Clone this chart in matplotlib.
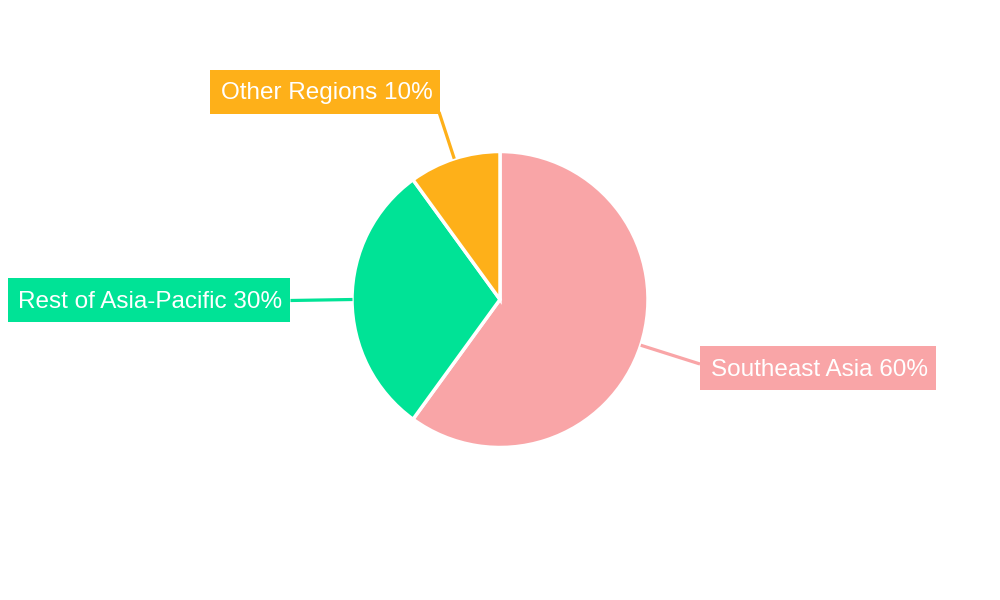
import matplotlib
matplotlib.use("Agg")
import matplotlib.pyplot as plt
from matplotlib.patches import Rectangle
import numpy as np

labels = ["Southeast Asia", "Rest of Asia-Pacific", "Other Regions"]
values = [60, 30, 10]
colors = ["#F9A5A7", "#00E396", "#FEB019"]

plt.rcParams['font.family'] = ['Liberation Sans', 'DejaVu Sans']

W, H = 1000, 600
fig = plt.figure(figsize=(10, 6), dpi=100)
ax = fig.add_axes([0, 0, 1, 1])

cx, cy, r = 500, H - 299.5, 148
wedges, _ = ax.pie(values, colors=colors, startangle=90, counterclock=False,
                   center=(cx, cy), radius=r, frame=True,
                   wedgeprops=dict(edgecolor='white', linewidth=2.5))
ax.set_xlim(0, W)
ax.set_ylim(0, H)
ax.set_aspect('equal')
ax.axis('off')

# label boxes (pixel coords, y from top): x0, y0, x1, y1
boxes = [(700, 346, 936, 390), (8, 278, 290, 322), (210, 70, 440, 114)]
ends = [(700, 364), (290, 299.5), (439, 112)]

for w, lab, val, col, box, end in zip(wedges, labels, values, colors, boxes, ends):
    ang = np.deg2rad((w.theta1 + w.theta2) / 2)
    sx, sy = cx + r * np.cos(ang), cy + r * np.sin(ang)
    ex, ey = end[0], H - end[1]
    ax.plot([sx, ex], [sy, ey], color=col, lw=2.3, solid_capstyle='butt', zorder=1)
    x0, y0, x1, y1 = box
    ax.add_patch(Rectangle((x0, H - y1), x1 - x0, y1 - y0, facecolor=col,
                           edgecolor='none', zorder=3))
    ax.text((x0 + x1) / 2 + 1.5, H - (y0 + y1) / 2 + 1, f"{lab} {val}%", color='white',
            fontsize=17.5, ha='center', va='center_baseline', zorder=4)

fig.savefig("out.png", dpi=100)
